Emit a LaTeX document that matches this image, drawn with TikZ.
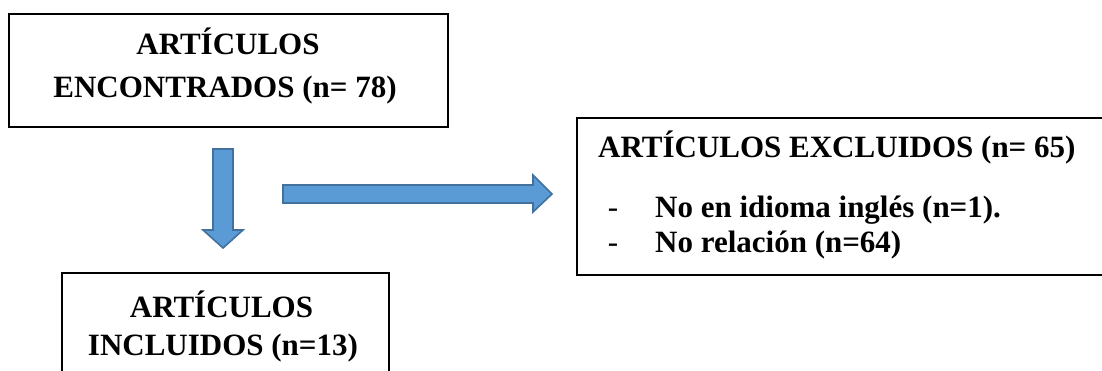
\documentclass[tikz,border=0pt]{standalone}
\usepackage{fontspec}
\setmainfont{Liberation Serif}
\begin{document}
\begin{tikzpicture}[x=1pt,y=-1pt,
  box/.style={draw=black,line width=2pt,rectangle,inner sep=0pt},
  txt/.style={font=\fontsize{31}{42}\selectfont\bfseries,inner sep=0pt,anchor=base},
  dashtxt/.style={font=\fontsize{31}{42}\selectfont,inner sep=0pt,anchor=base},
  blockarrow/.style={fill=arrowfill,draw=arrowline,line width=1.6pt,line join=miter}]
\definecolor{arrowfill}{HTML}{5B9BD5}
\definecolor{arrowline}{HTML}{41719C}
\useasboundingbox (0,0) rectangle (1102,371);
\clip (0,0) rectangle (1102,371);
% boxes
\node[box,minimum width=439pt,minimum height=113pt] (found) at (228.5,70.5) {};
\node[box,minimum width=327pt,minimum height=110pt] (incl) at (225,328) {};
\node[box,minimum width=540pt,minimum height=157pt] (excl) at (847,196.5) {};
% texts
\node[txt] (f1) at (228,55) {ARTÍCULOS};
\node[txt] (f2) at (225,98) {ENCONTRADOS (n= 78)};
\node[txt] (i1) at (221.5,317) {ARTÍCULOS};
\node[txt] (i2) at (223,355) {INCLUIDOS (n=13)};
\node[txt,anchor=base west] (e1) at (598,158) {ARTÍCULOS EXCLUIDOS (n= 65)};
\node[dashtxt] (d1) at (613,218) {-};
\node[txt,anchor=base west] (e2) at (655,218) {No en idioma inglés (n=1).};
\node[dashtxt] (d2) at (613,252) {-};
\node[txt,anchor=base west] (e3) at (655,252) {No relación (n=64)};
% block arrows
\draw[blockarrow] (213,149) -- (233,149) -- (233,230) -- (243,230) -- (223,248)
  -- (203,230) -- (213,230) -- cycle;
\draw[blockarrow] (283,185) -- (533,185) -- (533,175) -- (552,194) -- (533,212)
  -- (533,203) -- (283,203) -- cycle;
\end{tikzpicture}
\end{document}
